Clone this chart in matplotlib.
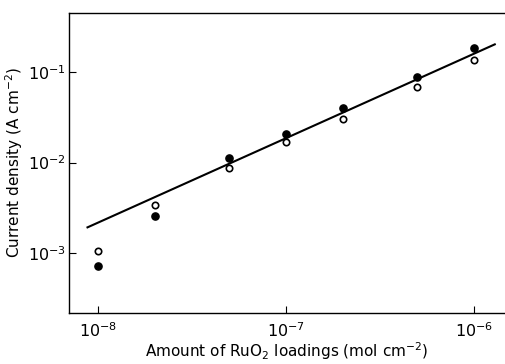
import matplotlib.pyplot as plt

# RuO2 loading (mol cm^-2) and current density (A cm^-2)
loading = [1e-8, 2e-8, 5e-8, 1e-7, 2e-7, 5e-7, 1e-6]
j_filled = [7.1e-4, 2.56e-3, 1.13e-2, 2.04e-2, 3.97e-2, 8.7e-2, 1.86e-1]
j_open = [1.06e-3, 3.39e-3, 8.7e-3, 1.68e-2, 3.03e-2, 6.9e-2, 1.36e-1]

# straight line through the data
fit_x = [8.8e-9, 1.29e-6]
fit_y = [1.92e-3, 2.02e-1]

plt.rcParams['font.family'] = ['DejaVu Sans']
plt.rcParams['mathtext.fontset'] = 'dejavusans'

fig = plt.figure(figsize=(5.05, 3.64), dpi=100)
ax = fig.add_axes([0.1366, 0.1401, 0.8634, 0.8242])

ax.plot(fit_x, fit_y, color='black', lw=1.5)
ax.plot(loading, j_filled, 'o', color='black', ms=5.2)
ax.plot(loading, j_open, 'o', mfc='white', mec='black', mew=1.2, ms=4.6)

ax.set_xscale('log')
ax.set_yscale('log')
ax.set_xlim(10 ** -8.154, 10 ** -5.835)
ax.set_ylim(10 ** -3.663, 10 ** -0.348)
ax.set_xticks([1e-8, 1e-7, 1e-6])
ax.set_yticks([1e-3, 1e-2, 1e-1])
ax.minorticks_off()
ax.tick_params(direction='in', length=5, width=0.8, labelsize=11.5)
ax.tick_params(axis='x', pad=6)
ax.tick_params(axis='y', pad=2)

ax.spines['right'].set_visible(False)
for s in ['left', 'bottom', 'top']:
    ax.spines[s].set_linewidth(1.0)

ax.set_xlabel('Amount of RuO$_2$ loadings (mol cm$^{-2}$)', fontsize=11, labelpad=0)
ax.set_ylabel('Current density (A cm$^{-2}$)', fontsize=11, labelpad=2)

fig.savefig('out.png', dpi=100)
